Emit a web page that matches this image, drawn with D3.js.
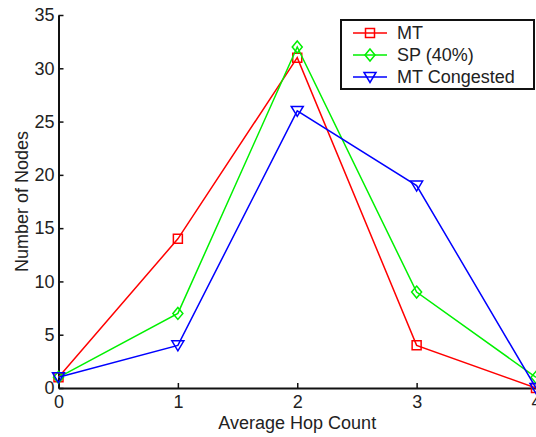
<!DOCTYPE html>
<html>
<head>
<meta charset="utf-8">
<script src="https://cdn.jsdelivr.net/npm/d3@7"></script>
<style>
  html, body { margin: 0; padding: 0; background: #fff; overflow: hidden; }
  svg { display: block; }
  text { font-family: "Liberation Sans", Arial, sans-serif; fill: #222; }
</style>
</head>
<body>
<div id="viz"></div>
<script>
const hopCounts = [0, 1, 2, 3, 4];
const mtValues = [1, 14, 31, 4, 0];
const spValues = [1, 7, 32, 9, 1];
const congestedValues = [1, 4, 26, 19, 0];
const seriesNames = ["MT", "SP (40%)", "MT Congested"];
const xTicks = [0, 1, 2, 3, 4];
const yTicks = [0, 5, 10, 15, 20, 25, 30, 35];

const COLORS = { mt: "#ff0000", sp: "#00f000", congested: "#0000ff" };

const width = 536, height = 437;
const margin = { top: 15, right: 0, bottom: 49, left: 58.5 };
const fontSize = 18;

const svg = d3.select("#viz")
  .append("svg")
  .attr("width", width)
  .attr("height", height);

const x = d3.scaleLinear()
  .domain([0, 4])
  .range([margin.left, width - margin.right]);

const y = d3.scaleLinear()
  .domain([0, 35])
  .range([height - margin.bottom, margin.top]);

const series = [
  { name: seriesNames[0], values: mtValues, color: COLORS.mt, marker: "square" },
  { name: seriesNames[1], values: spValues, color: COLORS.sp, marker: "diamond" },
  { name: seriesNames[2], values: congestedValues, color: COLORS.congested, marker: "triangle" }
];

// marker shapes drawn around (0,0)
function markerPath(type) {
  if (type === "square") return "M-4.5,-4.5H4.5V4.5H-4.5Z";
  if (type === "diamond") return "M0,-6L5,0L0,6L-5,0Z";
  return "M-6,-4.5H6L0,5.5Z";
}

// axes
const xAxis = svg.append("g")
  .attr("transform", `translate(0,${y(0)})`)
  .call(d3.axisBottom(x).tickValues(xTicks).tickFormat(d3.format("d"))
    .tickSizeInner(-5).tickSizeOuter(0).tickPadding(7));

const yAxis = svg.append("g")
  .attr("transform", `translate(${margin.left},0)`)
  .call(d3.axisLeft(y).tickValues(yTicks).tickFormat(d3.format("d"))
    .tickSizeInner(-5).tickSizeOuter(0).tickPadding(4));

[xAxis, yAxis].forEach(g => {
  g.select(".domain").attr("stroke", "#111").attr("stroke-width", 2);
  g.selectAll(".tick line").attr("stroke", "#111").attr("stroke-width", 1.5);
  g.selectAll(".tick text")
    .attr("font-size", fontSize)
    .attr("font-family", "Liberation Sans, Arial, sans-serif")
    .attr("fill", "#222");
});

// series lines and markers
const line = d3.line()
  .x((d, i) => x(hopCounts[i]))
  .y(d => y(d));

series.forEach(s => {
  svg.append("path")
    .datum(s.values)
    .attr("fill", "none")
    .attr("stroke", s.color)
    .attr("stroke-width", 1.5)
    .attr("d", line);

  svg.selectAll(null)
    .data(s.values)
    .join("path")
    .attr("transform", (d, i) => `translate(${x(hopCounts[i])},${y(d)})`)
    .attr("d", markerPath(s.marker))
    .attr("fill", "none")
    .attr("stroke", s.color)
    .attr("stroke-width", 1.5);
});

// axis labels
svg.append("text")
  .attr("x", x(2))
  .attr("y", 429)
  .attr("text-anchor", "middle")
  .attr("font-size", fontSize)
  .text("Average Hop Count");

svg.append("text")
  .attr("transform", `translate(28,${(y(0) + y(35)) / 2}) rotate(-90)`)
  .attr("text-anchor", "middle")
  .attr("font-size", fontSize)
  .text("Number of Nodes");

// legend
const legend = svg.append("g").attr("transform", "translate(341,20)");

legend.append("rect")
  .attr("width", 193)
  .attr("height", 69)
  .attr("fill", "#fff")
  .attr("stroke", "#111")
  .attr("stroke-width", 2);

series.forEach((s, i) => {
  const row = legend.append("g").attr("transform", `translate(0,${13 + i * 22})`);
  row.append("line")
    .attr("x1", 12).attr("x2", 46)
    .attr("stroke", s.color)
    .attr("stroke-width", 1.5);
  row.append("path")
    .attr("transform", "translate(29,0)")
    .attr("d", markerPath(s.marker))
    .attr("fill", "none")
    .attr("stroke", s.color)
    .attr("stroke-width", 1.5);
  row.append("text")
    .attr("x", 56)
    .attr("dy", "0.35em")
    .attr("font-size", fontSize)
    .text(s.name);
});
</script>
</body>
</html>
